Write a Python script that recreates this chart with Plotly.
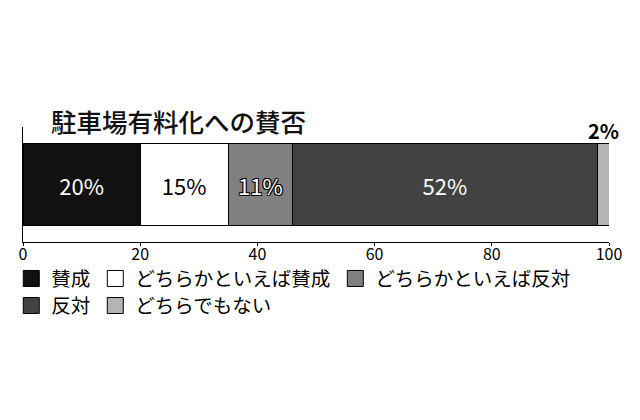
import plotly.graph_objects as go

categories = ['賛成', 'どちらかといえば賛成', 'どちらかといえば反対', '反対', 'どちらでもない']
values = [20, 15, 11, 52, 2]
colors = ['#111111', '#ffffff', '#808080', '#424242', '#b4b4b4']
text_colors = ['white', 'black', 'white', 'white', 'black']
legend_rows = ['legend', 'legend', 'legend', 'legend2', 'legend2']
title_text = '駐車場有料化への賛否'
font_jp = 'Noto Sans CJK JP'
font_num = 'Liberation Sans Narrow, Noto Sans CJK JP'

fig = go.Figure()
for i in range(len(categories)):
    label = str(values[i]) + '%' if values[i] >= 5 else ''
    shadow = '1px 1px 0 #000, -1px -1px 0 #000, 1px -1px 0 #000, -1px 1px 0 #000' if colors[i] == '#808080' else 'none'
    fig.add_trace(go.Bar(y=[''],
                         x=[values[i]],
                         name=categories[i],
                         orientation='h',
                         width=0.72,
                         showlegend=False,
                         marker=dict(color=colors[i], line=dict(color='black', width=1)),
                         text=[label],
                         textposition='inside',
                         insidetextanchor='middle',
                         textfont=dict(color=text_colors[i], size=22, family=font_num, shadow=shadow),
                         hoverinfo='x+name'))

# legend entries as big square markers
for i in range(len(categories)):
    fig.add_trace(go.Scatter(x=[None], y=[None], mode='markers',
                             name=categories[i],
                             legend=legend_rows[i],
                             marker=dict(symbol='square', size=18, color=colors[i],
                                         line=dict(color='black', width=1))))

# small segment label sits above the bar
small_x = sum(values[:-1]) + values[-1] / 2
fig.add_annotation(x=small_x, y=1, xref='x', yref='paper', yanchor='middle',
                   text='<b>' + str(values[-1]) + '%</b>', showarrow=False,
                   font=dict(size=20, family=font_num, color='black'), yshift=-3)

fig.add_annotation(x=0.044, y=1.0, xref='paper', yref='paper', xanchor='left', yanchor='middle',
                   text=title_text, showarrow=False,
                   font=dict(size=25.5, family=font_jp, color='#111111', weight=500), yshift=7)

legend_style = dict(orientation='h', xanchor='left', yanchor='middle',
                    font=dict(size=19.5, family=font_jp, color='black'),
                    itemwidth=30, traceorder='normal', bgcolor='rgba(0,0,0,0)')
fig.update_layout(width=632, height=412,
                  barmode='stack',
                  margin=dict(l=15, r=31, t=119, b=178, autoexpand=False),
                  paper_bgcolor='white', plot_bgcolor='white',
                  showlegend=True,
                  legend=dict(x=-0.02, y=-0.32, **legend_style),
                  legend2=dict(x=-0.02, y=-0.555, **legend_style),
                  font=dict(family=font_jp))
fig.update_xaxes(range=[0, 100], tickvals=[0, 20, 40, 60, 80, 100],
                 showline=True, linecolor='black', linewidth=1,
                 ticks='outside', ticklen=3, tickcolor='black',
                 showgrid=False, zeroline=False, automargin=False,
                 ticklabelstandoff=-5,
                 tickfont=dict(size=16, color='black', family=font_num))
fig.update_yaxes(range=[-0.5, 0.5], showline=True, linecolor='black', linewidth=1,
                 showticklabels=False, showgrid=False, zeroline=False, automargin=False)

fig.write_html('out.html')
